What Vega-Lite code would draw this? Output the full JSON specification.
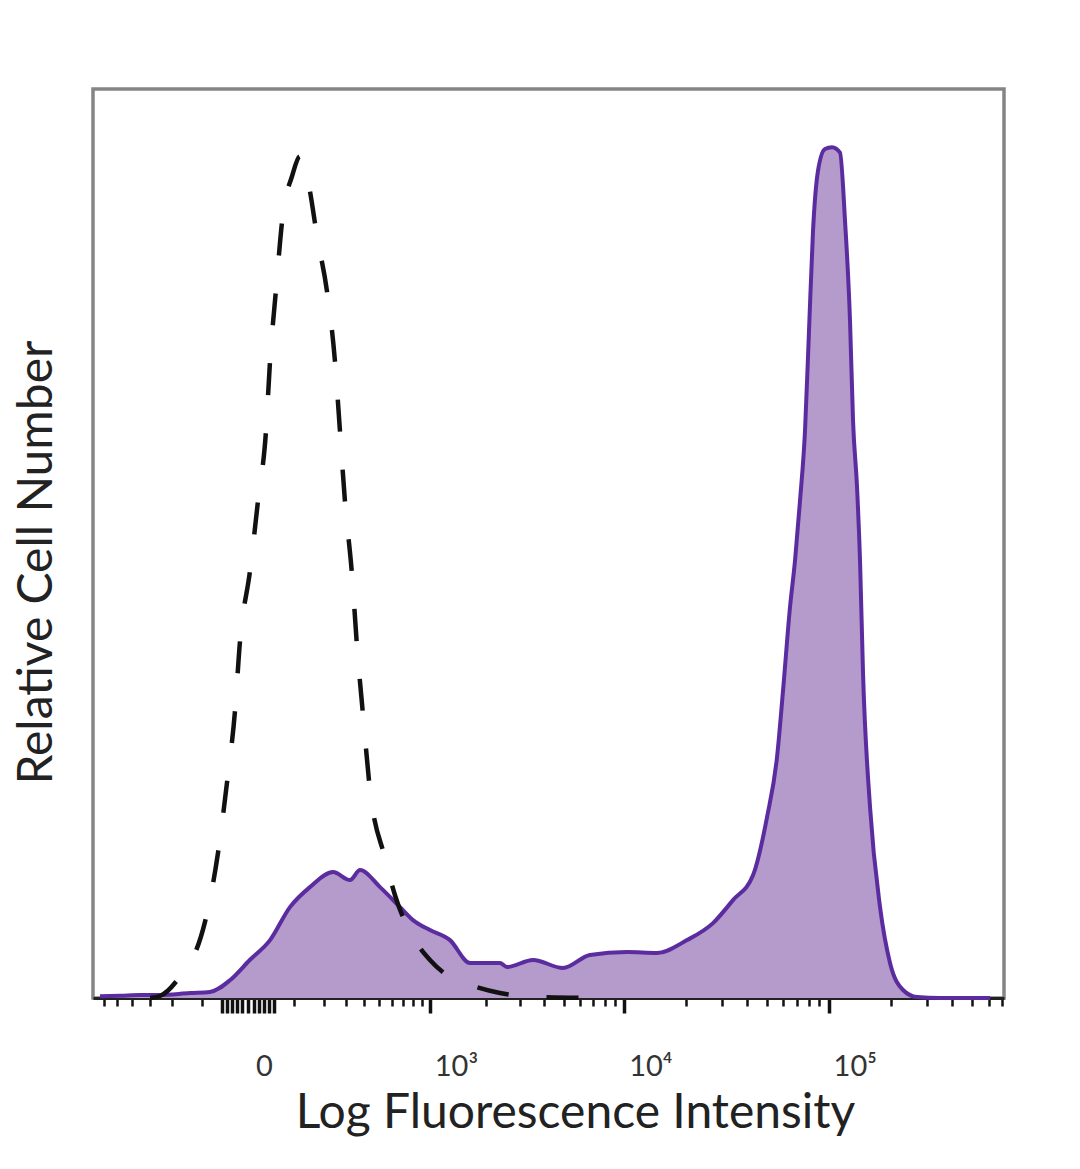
{
  "$schema": "https://vega.github.io/schema/vega-lite/v6.json",
  "width": 911,
  "height": 909,
  "autosize": {"type": "none"},
  "padding": {"left": 93, "top": 89, "right": 76, "bottom": 171},
  "background": "white",
  "config": {"view": {"stroke": "#858585", "strokeWidth": 3.5}, "font": "Lato"},
  "datasets": {
    "stained": [
      {"intensity": -637, "count": 0.2}, {"intensity": -479, "count": 0.25}, {"intensity": -353, "count": 0.33},
      {"intensity": -252, "count": 0.33}, {"intensity": -137, "count": 0.55}, {"intensity": -80, "count": 0.66},
      {"intensity": -33, "count": 1.98}, {"intensity": 3, "count": 4.18}, {"intensity": 42, "count": 6.37},
      {"intensity": 90, "count": 10.0}, {"intensity": 150, "count": 12.2}, {"intensity": 239, "count": 13.85},
      {"intensity": 320, "count": 12.97}, {"intensity": 376, "count": 14.07}, {"intensity": 508, "count": 12.2},
      {"intensity": 673, "count": 10.0}, {"intensity": 802, "count": 8.57}, {"intensity": 1001, "count": 7.47},
      {"intensity": 1290, "count": 6.37}, {"intensity": 1652, "count": 3.85}, {"intensity": 2371, "count": 3.85},
      {"intensity": 2577, "count": 3.41}, {"intensity": 3499, "count": 4.18}, {"intensity": 4955, "count": 3.3},
      {"intensity": 6757, "count": 4.73}, {"intensity": 10305, "count": 5.05}, {"intensity": 14478, "count": 4.95},
      {"intensity": 20318, "count": 6.37}, {"intensity": 27240, "count": 8.24}, {"intensity": 34110, "count": 10.77},
      {"intensity": 42720, "count": 13.5}, {"intensity": 50010, "count": 19.9}, {"intensity": 55950, "count": 26.5},
      {"intensity": 59840, "count": 33.8}, {"intensity": 64730, "count": 43.0}, {"intensity": 68460, "count": 48.1},
      {"intensity": 72420, "count": 54.7}, {"intensity": 76590, "count": 62.4}, {"intensity": 80110, "count": 73.4},
      {"intensity": 83790, "count": 84.4}, {"intensity": 88600, "count": 91.0}, {"intensity": 95850, "count": 93.4},
      {"intensity": 103700, "count": 93.6}, {"intensity": 113430, "count": 93.0}, {"intensity": 119970, "count": 85.5},
      {"intensity": 126890, "count": 74.5}, {"intensity": 131250, "count": 63.5}, {"intensity": 137270, "count": 56.2},
      {"intensity": 141960, "count": 48.1}, {"intensity": 146820, "count": 35.7}, {"intensity": 158800, "count": 21.0},
      {"intensity": 177640, "count": 10.0}, {"intensity": 198690, "count": 3.85}, {"intensity": 229890, "count": 0.88},
      {"intensity": 268890, "count": 0.1}, {"intensity": 347850, "count": 0}, {"intensity": 609000, "count": 0}
    ],
    "control": [
      {"intensity": -299, "count": 0}, {"intensity": -252, "count": 0.22}, {"intensity": -190, "count": 1.65},
      {"intensity": -93, "count": 8.35}, {"intensity": -60, "count": 15.93}, {"intensity": -40, "count": 23.6},
      {"intensity": -23.5, "count": 31.6}, {"intensity": -14, "count": 39.3}, {"intensity": 3.4, "count": 47.0},
      {"intensity": 17.8, "count": 54.7}, {"intensity": 33.5, "count": 62.4}, {"intensity": 42, "count": 70.1},
      {"intensity": 55, "count": 77.8}, {"intensity": 72, "count": 86.3}, {"intensity": 95.5, "count": 90.4},
      {"intensity": 118.5, "count": 92.6}, {"intensity": 134, "count": 91.5}, {"intensity": 150, "count": 88.8},
      {"intensity": 175, "count": 83.8}, {"intensity": 213, "count": 77.8}, {"intensity": 247, "count": 70.1},
      {"intensity": 270, "count": 62.4}, {"intensity": 294, "count": 54.7}, {"intensity": 331, "count": 46.5},
      {"intensity": 358, "count": 38.8}, {"intensity": 394, "count": 31.1}, {"intensity": 438, "count": 22.9},
      {"intensity": 546, "count": 15.4}, {"intensity": 628, "count": 11.3}, {"intensity": 802, "count": 6.7},
      {"intensity": 1001, "count": 4.18}, {"intensity": 1290, "count": 2.31}, {"intensity": 1652, "count": 1.43},
      {"intensity": 2371, "count": 0.55}, {"intensity": 3797, "count": 0.11}, {"intensity": 7575, "count": 0}
    ]
  },
  "encoding": {
    "x": {
      "field": "intensity",
      "type": "quantitative",
      "scale": {"type": "symlog", "constant": 150, "domain": [-701, 712400], "nice": false, "zero": false},
      "axis": {
        "title": "Log Fluorescence Intensity",
        "values": [-600, -500, -400, -300, -200, -100, -50, -40, -30, -20, -10, 0, 10, 20, 30, 40, 50, 100, 200, 300, 400, 500, 600, 700, 800, 900, 1000, 2000, 3000, 4000, 5000, 6000, 7000, 8000, 9000, 10000, 20000, 30000, 40000, 50000, 60000, 70000, 80000, 90000, 100000, 200000, 300000, 400000, 500000, 600000, 700000],
        "labelExpr": "datum.value == 0 ? '0' : datum.value == 1000 ? '10³' : datum.value == 10000 ? '10⁴' : datum.value == 100000 ? '10⁵' : ''",
        "grid": false,
        "domainColor": "#222222",
        "domainWidth": 3,
        "tickColor": "#111111",
        "tickWidth": {"condition": {"test": "abs(datum.value) <= 50 || datum.value == 1000 || datum.value == 10000 || datum.value == 100000", "value": 3.5}, "value": 2.5},
        "tickSize": {"condition": {"test": "abs(datum.value) <= 50 || datum.value == 1000 || datum.value == 10000 || datum.value == 100000", "value": 15}, "value": 8},
        "labelOverlap": false,
        "labelFlush": false,
        "labelFont": "Lato",
        "labelFontSize": 29,
        "labelColor": "#333333",
        "labelBaseline": "alphabetic",
        "labelPadding": 62,
        "labelOffset": {"condition": {"test": "datum.value == 0", "value": 16}, "value": 26},
        "titleFont": "Lato",
        "titleFontSize": 48,
        "titleFontWeight": "normal",
        "titleColor": "#222222",
        "titleX": 482,
        "titleY": 129,
        "titleBaseline": "alphabetic",
        "titleAlign": "center"
      }
    },
    "y": {
      "field": "count",
      "type": "quantitative",
      "scale": {"domain": [0, 100], "nice": false},
      "axis": {
        "title": "Relative Cell Number",
        "domain": false,
        "ticks": false,
        "labels": false,
        "grid": false,
        "titleFont": "Lato",
        "titleFontSize": 48,
        "titleFontWeight": "normal",
        "titleColor": "#222222",
        "titleAngle": -90,
        "titleX": -42,
        "titleY": 473,
        "titleBaseline": "alphabetic",
        "titleAlign": "center"
      }
    }
  },
  "layer": [
    {"data": {"name": "stained"}, "mark": {"type": "area", "color": "#b49bcb", "interpolate": "monotone"}},
    {"data": {"name": "stained"}, "mark": {"type": "line", "color": "#5b2c9f", "strokeWidth": 4, "interpolate": "monotone"}},
    {"data": {"name": "control"}, "mark": {"type": "line", "color": "#111111", "strokeWidth": 4.5, "strokeDash": [32, 38], "interpolate": "monotone"}}
  ]
}
